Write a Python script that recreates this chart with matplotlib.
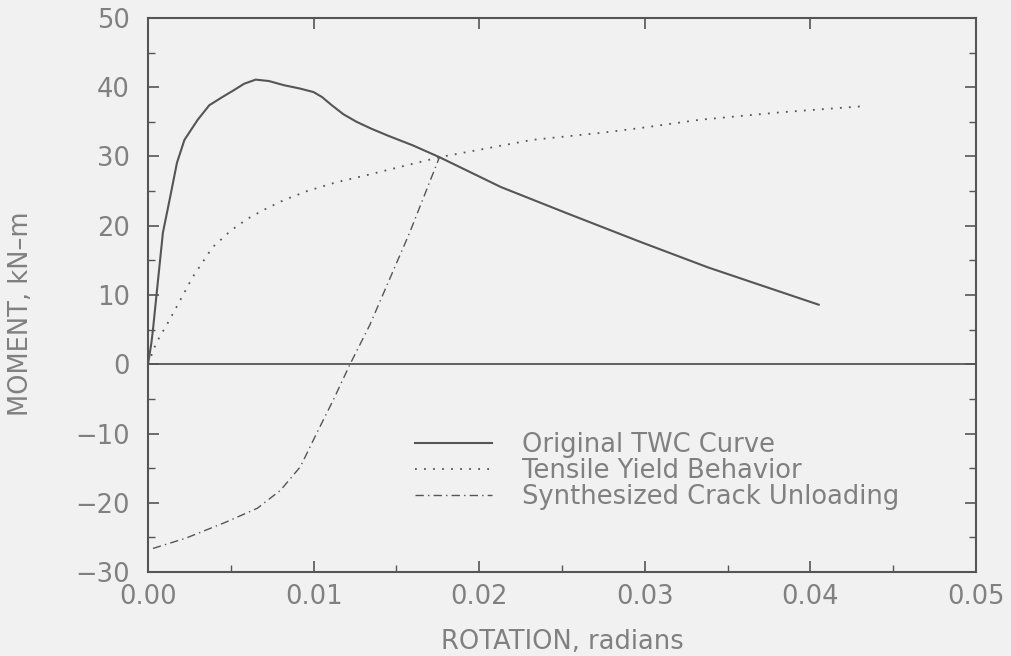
import matplotlib
matplotlib.use("Agg")
import matplotlib.pyplot as plt
from matplotlib.ticker import MultipleLocator, FormatStrFormatter

# Data
twc_rot = [0.0, 0.0002, 0.0003, 0.0005, 0.0009, 0.0013, 0.00175, 0.0022, 0.0030,
           0.0037, 0.0045, 0.0052, 0.0058, 0.0065, 0.0073, 0.0082, 0.0092, 0.0100,
           0.0105, 0.0111, 0.0118, 0.0126, 0.0135, 0.0145, 0.0160, 0.0176, 0.0213,
           0.0253, 0.0297, 0.0338, 0.0364, 0.0405]
twc_mom = [0.0, 3.0, 5.0, 9.7, 19.0, 23.7, 29.1, 32.4, 35.3,
           37.4, 38.6, 39.6, 40.5, 41.1, 40.9, 40.3, 39.8, 39.3,
           38.6, 37.4, 36.1, 35.0, 34.0, 33.0, 31.6, 29.9, 25.6,
           21.8, 17.7, 14.0, 11.9, 8.6]

yield_rot = [0.0, 0.0005, 0.0013, 0.0027, 0.0039, 0.0050, 0.0060, 0.0070, 0.0082,
             0.0096, 0.0114, 0.0132, 0.0176, 0.0232, 0.0273, 0.0297, 0.0333,
             0.0383, 0.0434]
yield_mom = [0.0, 3.1, 6.4, 12.6, 16.9, 19.3, 21.0, 22.3, 23.7,
             25.0, 26.3, 27.3, 29.9, 32.4, 33.4, 34.1, 35.3,
             36.4, 37.3]

crack_rot = [0.0003, 0.0023, 0.0047, 0.0066, 0.0080, 0.0092, 0.0102, 0.0112,
             0.0122, 0.0134, 0.0158, 0.0176]
crack_mom = [-26.6, -25.1, -22.8, -20.8, -18.2, -14.8, -9.9, -5.1,
             0.0, 5.7, 19.0, 29.9]

labels = ["Original TWC Curve", "Tensile Yield Behavior", "Synthesized Crack Unloading"]
x_ticks = [0.00, 0.01, 0.02, 0.03, 0.04, 0.05]
y_ticks = [-30, -20, -10, 0, 10, 20, 30, 40, 50]

bg = "#f1f1f1"
line_c = "#555555"
text_c = "#808080"
fs = 18.5

plt.rcParams["font.family"] = ["DejaVu Sans"]
fig = plt.figure(figsize=(10.12, 6.56), dpi=100, facecolor=bg)
ax = fig.add_axes([148/1012, 84/656, 828/1012, 554/656])
ax.set_facecolor(bg)

ax.plot(twc_rot, twc_mom, color=line_c, lw=1.5, label=labels[0])
ax.plot(yield_rot, yield_mom, color=line_c, lw=1.3, linestyle=(0, (1, 4)), label=labels[1])
ax.plot(crack_rot, crack_mom, color=line_c, lw=1.0, linestyle=(0, (6, 3, 1, 3)), label=labels[2])
ax.axhline(0, color=line_c, lw=1.3)

ax.set_xlim(0, 0.05)
ax.set_ylim(-30, 50)
ax.set_xticks(x_ticks)
ax.set_yticks(y_ticks)
ax.xaxis.set_major_formatter(FormatStrFormatter("%.2f"))
ax.xaxis.set_minor_locator(MultipleLocator(0.005))
ax.yaxis.set_minor_locator(MultipleLocator(5))

for s in ax.spines.values():
    s.set_color(line_c)
    s.set_linewidth(1.5)

ax.tick_params(which="both", direction="in", top=True, right=True, color=line_c,
               labelcolor=text_c, labelsize=fs)
ax.tick_params(which="major", length=8, width=1.2)
ax.tick_params(which="minor", length=5, width=1.0, top=False)
ax.tick_params(axis="x", pad=9)
ax.tick_params(axis="y", pad=13)

ax.set_xlabel("ROTATION, radians", fontsize=fs, color=text_c)
ax.set_ylabel("MOMENT, kN\u2013m", fontsize=fs, color=text_c)
ax.xaxis.set_label_coords(0.5, -0.103)
ax.yaxis.set_label_coords(-0.138, 0.467)

leg = ax.legend(loc="center left", bbox_to_anchor=((415-148)/828, (572-471)/554),
                frameon=False, fontsize=fs, handlelength=3.0, handletextpad=1.15,
                labelspacing=0.0, borderpad=0, borderaxespad=0)
for t in leg.get_texts():
    t.set_color(text_c)

fig.savefig("out.png", dpi=100, facecolor=bg)
